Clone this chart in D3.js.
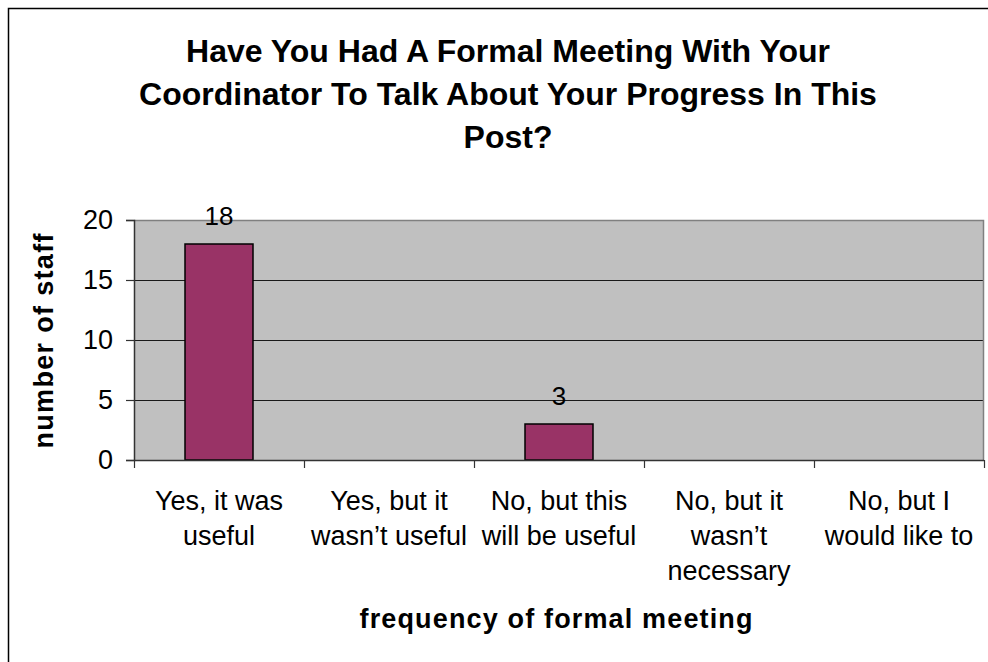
<!DOCTYPE html>
<html>
<head>
<meta charset="utf-8">
<script src="https://cdn.jsdelivr.net/npm/d3@7"></script>
<style>
  body { margin: 0; background: #fff; }
  text { font-family: "Liberation Sans", Arial, sans-serif; fill: #000; }
</style>
</head>
<body>
<div class="wrapper"></div>
<script>
// chart data
var categories = ["Yes, it was useful", "Yes, but it wasn't useful", "No, but this will be useful",
                  "No, but it wasn't necessary", "No, but I would like to"];
var categoryLines = [["Yes, it was", "useful"], ["Yes, but it", "wasn\u2019t useful"], ["No, but this", "will be useful"],
                     ["No, but it", "wasn\u2019t", "necessary"], ["No, but I", "would like to"]];
var staffCounts = [18, 0, 3, 0, 0];
var yTicks = [0, 5, 10, 15, 20];
var titleLines = ["Have You Had A Formal Meeting With Your",
                  "Coordinator To Talk About Your Progress In This",
                  "Post?"];
var xTitle = "frequency of formal meeting";
var yTitle = "number of staff";

var width = 988, height = 662;
var margin = {top: 220, right: 4, bottom: 202, left: 134};
var plotW = width - margin.left - margin.right,
    plotH = height - margin.top - margin.bottom;

var svg = d3.select(".wrapper")
  .append("svg")
    .attr("width", width)
    .attr("height", height);

// outer chart border (only left/top visible)
svg.append("path")
    .attr("d", "M8.5," + height + "V8.5H" + width)
    .attr("fill", "none")
    .attr("stroke", "#000")
    .attr("stroke-width", 1.5);

// title
svg.append("g").selectAll("text")
  .data(titleLines)
  .enter().append("text")
    .attr("x", 508)
    .attr("y", function(d, i) { return 62 + i * 43; })
    .attr("text-anchor", "middle")
    .style("font-size", "32px")
    .style("font-weight", "bold")
    .text(function(d) { return d; });

var g = svg.append("g")
    .attr("transform", "translate(" + margin.left + "," + margin.top + ")");

var x = d3.scaleBand()
    .domain(categories)
    .range([0, plotW])
    .paddingInner(0.6)
    .paddingOuter(0.3);

var xTick = d3.scaleBand().domain(categories).range([0, plotW]);

var y = d3.scaleLinear()
    .domain([0, 20])
    .range([plotH, 0]);

// plot background
g.append("rect")
    .attr("width", plotW)
    .attr("height", plotH)
    .attr("fill", "#c0c0c0");

// gridlines
g.append("g").selectAll("line")
  .data(yTicks.filter(function(d) { return d > 0; }))
  .enter().append("line")
    .attr("x1", 0).attr("x2", plotW)
    .attr("y1", function(d) { return Math.round(y(d)) + 0.5; })
    .attr("y2", function(d) { return Math.round(y(d)) + 0.5; })
    .attr("stroke", "#1a1a1a")
    .attr("stroke-width", 1.2);

// plot border top/right
g.append("path")
    .attr("d", "M0,0.5H" + (plotW - 0.5) + "V" + plotH)
    .attr("fill", "none")
    .attr("stroke", "#808080")
    .attr("stroke-width", 1.5);

// bars
g.append("g").selectAll("rect")
  .data(staffCounts)
  .enter().filter(function(d) { return d > 0; })
  .append("rect")
    .attr("x", function(d) { return x(categories[staffCounts.indexOf(d)]); })
    .attr("y", function(d) { return y(d); })
    .attr("width", x.bandwidth())
    .attr("height", function(d) { return plotH - y(d); })
    .attr("fill", "#993366")
    .attr("stroke", "#000")
    .attr("stroke-width", 1.5);

// data labels
g.append("g").selectAll("text")
  .data(staffCounts)
  .enter().filter(function(d) { return d > 0; })
  .append("text")
    .attr("x", function(d) { return x(categories[staffCounts.indexOf(d)]) + x.bandwidth() / 2; })
    .attr("y", function(d) { return y(d) - 19; })
    .attr("text-anchor", "middle")
    .style("font-size", "26px")
    .text(function(d) { return d; });

// y axis
var yAxis = g.append("g")
    .call(d3.axisLeft(y).tickValues(yTicks).tickSize(8).tickPadding(13));
yAxis.select(".domain").attr("stroke", "#333").attr("stroke-width", 1.5);
yAxis.selectAll(".tick line").attr("stroke", "#333").attr("stroke-width", 1.2);
yAxis.selectAll(".tick text")
    .style("font-size", "27px")
    .style("font-family", "'Liberation Sans', Arial, sans-serif")
    .attr("fill", "#000");

// x axis baseline + category ticks
var xAxisG = g.append("g").attr("transform", "translate(0," + plotH + ")");
xAxisG.append("line")
    .attr("x1", 0).attr("x2", plotW)
    .attr("y1", 0.5).attr("y2", 0.5)
    .attr("stroke", "#333")
    .attr("stroke-width", 1.5);
xAxisG.selectAll(".ctick")
  .data(categories.concat(["end"]))
  .enter().append("line")
    .attr("class", "ctick")
    .attr("x1", function(d, i) { return Math.round(i < categories.length ? xTick(d) : plotW) + 0.5; })
    .attr("x2", function(d, i) { return Math.round(i < categories.length ? xTick(d) : plotW) + 0.5; })
    .attr("y1", 0).attr("y2", 8)
    .attr("stroke", "#333")
    .attr("stroke-width", 1.2);

// category labels
var catLabel = xAxisG.selectAll(".clabel")
  .data(categoryLines)
  .enter().append("text")
    .attr("class", "clabel")
    .attr("text-anchor", "middle")
    .style("font-size", "27px");
catLabel.selectAll("tspan")
  .data(function(d, i) { return d.map(function(t) { return {t: t, i: i}; }); })
  .enter().append("tspan")
    .attr("x", function(d) { return xTick(categories[d.i]) + xTick.bandwidth() / 2; })
    .attr("y", function(d, j) { return 50 + j * 35; })
    .text(function(d) { return d.t; });

// axis titles
svg.append("text")
    .attr("x", 556)
    .attr("y", 628)
    .attr("text-anchor", "middle")
    .attr("textLength", 393)
    .attr("lengthAdjust", "spacing")
    .style("font-size", "27px")
    .style("font-weight", "bold")
    .text(xTitle);

svg.append("text")
    .attr("transform", "translate(53,341) rotate(-90)")
    .attr("text-anchor", "middle")
    .attr("textLength", 215)
    .attr("lengthAdjust", "spacing")
    .style("font-size", "27px")
    .style("font-weight", "bold")
    .text(yTitle);
</script>
</body>
</html>
